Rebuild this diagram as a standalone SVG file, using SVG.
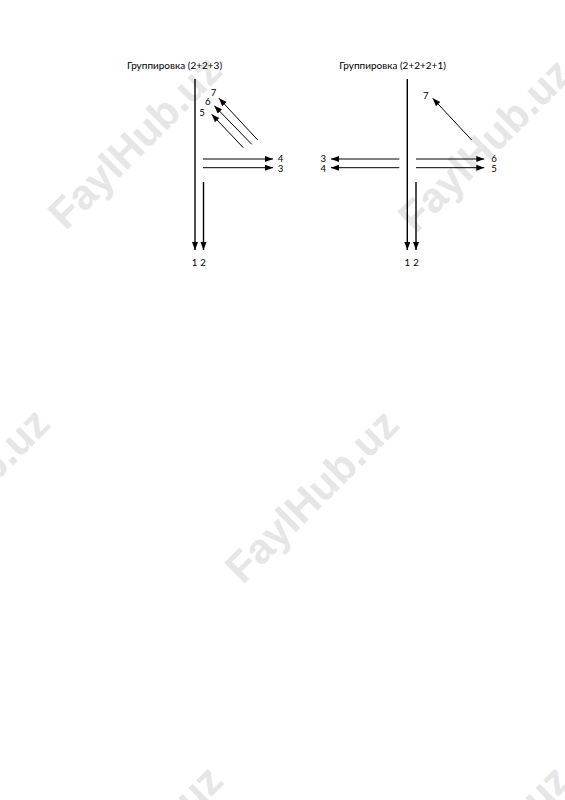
<svg xmlns="http://www.w3.org/2000/svg" width="565" height="800" viewBox="0 0 565 800">
<style>
.wm{font-family:"Liberation Sans",Arial,sans-serif;font-weight:bold;font-size:42px;fill:#e6e6e6;text-anchor:middle}
.t{font-family:Lato,"Open Sans",sans-serif;font-size:10px;fill:#000}
.n{font-size:9.6px}
.c{text-anchor:middle}
.ln{stroke:#000;stroke-width:1;fill:none;marker-end:url(#ah)}
.vl{stroke:#000;stroke-width:1.4;fill:none;marker-end:url(#ah)}
</style>
<defs>
<marker id="ah" markerUnits="userSpaceOnUse" markerWidth="9" markerHeight="7" refX="8" refY="3" orient="auto">
<path d="M0,0 L8,3 L0,6 z" fill="#000"/>
</marker>
</defs>
<rect width="565" height="800" fill="#fff"/>
<g id="watermarks">
<text class="wm" transform="translate(145,152) rotate(-45)">FaylHub.uz</text>
<text class="wm" transform="translate(495,155) rotate(-45)">FaylHub.uz</text>
<text class="wm" transform="translate(-27,505) rotate(-45)">FaylHub.uz</text>
<text class="wm" transform="translate(322,506) rotate(-45)">FaylHub.uz</text>
<text class="wm" transform="translate(146,862) rotate(-45)">FaylHub.uz</text>
<text class="wm" transform="translate(493,862) rotate(-45)">FaylHub.uz</text>
</g>
<g id="connectors">
<line class="vl" x1="195" y1="79" x2="195" y2="250"/>
<line class="vl" x1="203.5" y1="182" x2="203.5" y2="250"/>
<line class="ln" x1="203" y1="159" x2="273" y2="159"/>
<line class="ln" x1="203" y1="167.7" x2="273" y2="167.7"/>
<line class="ln" x1="257.7" y1="140" x2="219" y2="98.3"/>
<line class="ln" x1="251.7" y1="144.3" x2="214.3" y2="105.7"/>
<line class="ln" x1="243.3" y1="147.7" x2="211.7" y2="114.3"/>
<line class="vl" x1="407.3" y1="79" x2="407.3" y2="250"/>
<line class="vl" x1="416" y1="182" x2="416" y2="250"/>
<line class="ln" x1="399.3" y1="159" x2="331" y2="159"/>
<line class="ln" x1="399.3" y1="167.7" x2="331" y2="167.7"/>
<line class="ln" x1="416" y1="159" x2="484.3" y2="159"/>
<line class="ln" x1="416" y1="167.7" x2="484.3" y2="167.7"/>
<line class="ln" x1="471.7" y1="140" x2="432.7" y2="98.3"/>
</g>
<g id="left-group">
<text class="t c" x="174.5" y="69">Группировка (2+2+3)</text>
<text class="t n c" x="213.5" y="96">7</text>
<text class="t n c" x="207.7" y="105">6</text>
<text class="t n c" x="202" y="116">5</text>
<text class="t n c" x="280.5" y="162">4</text>
<text class="t n c" x="280.5" y="172">3</text>
<text class="t n c" x="194.5" y="266">1</text>
<text class="t n c" x="203" y="266">2</text>
</g>
<g id="right-group">
<text class="t c" x="392.5" y="69">Группировка (2+2+2+1)</text>
<text class="t n c" x="425.7" y="99">7</text>
<text class="t n c" x="323.3" y="162">3</text>
<text class="t n c" x="323.3" y="172">4</text>
<text class="t n c" x="494" y="162">6</text>
<text class="t n c" x="494" y="172">5</text>
<text class="t n c" x="407.3" y="266">1</text>
<text class="t n c" x="416" y="266">2</text>
</g>
</svg>
